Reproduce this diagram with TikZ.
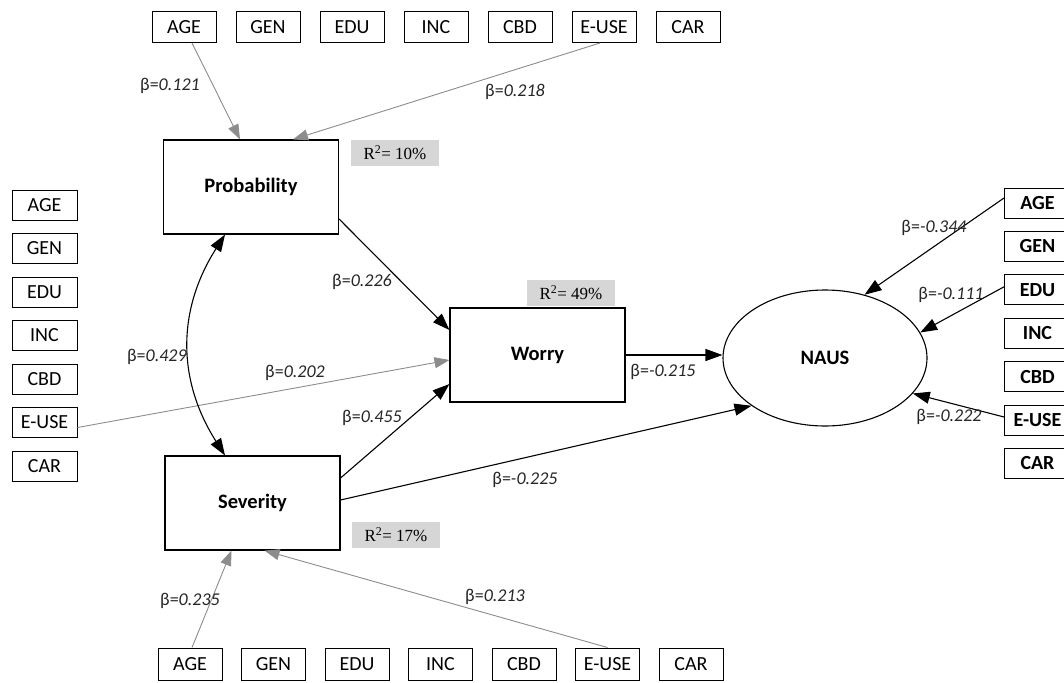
\documentclass[tikz,border=0pt]{standalone}
\usepackage{fontspec}
\setmainfont{Carlito}
\newfontfamily\rfont{Liberation Serif}
\usetikzlibrary{arrows.meta,shapes.geometric}
\tikzset{
  var/.style={draw, line width=1pt, minimum width=64pt, minimum height=31pt, inner sep=0pt, font=\fontsize{20}{20}\selectfont},
  rvar/.style={var, minimum width=66pt, font=\fontsize{20}{20}\selectfont\bfseries},
  big/.style={draw, line width=1.1pt, minimum width=175pt, minimum height=94pt, inner sep=0pt, font=\fontsize{20.5}{20.5}\selectfont\bfseries},
  rsq/.style={fill=black!16, minimum width=88pt, minimum height=26pt, inner sep=0pt, font=\rfont\fontsize{17}{17}\selectfont},
  blk/.style={line width=1.1pt, -{Triangle[length=17pt,width=12pt]}},
  gry/.style={draw=black!45, line width=0.9pt, -{Triangle[length=15pt,width=11pt,fill=black!45]}},
  dbl/.style={line width=1.1pt, {Triangle[length=17pt,width=12pt]}-{Triangle[length=17pt,width=12pt]}},
  lab/.style={font=\fontsize{18}{18}\selectfont, inner sep=1pt, text=black!85}
}
\newcommand\bv[1]{β=\textit{#1}}
\begin{document}
\begin{tikzpicture}[x=1pt,y=-1pt]
\useasboundingbox (0,0) rectangle (1064,682);
% top row
\foreach \t [count=\i] in {AGE,GEN,EDU,INC,CBD,E-USE,CAR}
  \node[var] (t\i) at ({184+(\i-1)*84},27) {\t};
% bottom row
\foreach \t [count=\i] in {AGE,GEN,EDU,INC,CBD,E-USE,CAR}
  \node[var, minimum height=32pt] (b\i) at ({190+(\i-1)*83.5},664) {\t};
% left column
\foreach \t [count=\i] in {AGE,GEN,EDU,INC,CBD,E-USE,CAR}
  \node[var, minimum width=65pt, minimum height=30pt] (l\i) at (44.5,{205+(\i-1)*43.5}) {\t};
% right column
\foreach \t [count=\i] in {AGE,GEN,EDU,INC,CBD,E-USE,CAR}
  \node[rvar, minimum height=30pt, anchor=west] (r\i) at (1004,{203+(\i-1)*43.4}) {\t};
% constructs
\node[big] (prob) at (251,187) {Probability};
\node[big] (worry) at (537.5,355) {Worry};
\node[big] (sev) at (252.5,503) {Severity};
\node[draw, ellipse, line width=1.1pt, minimum width=204pt, minimum height=136pt, inner sep=0pt, font=\fontsize{20.5}{20.5}\selectfont\bfseries] (naus) at (825,358) {NAUS};
% R2 labels
\node[rsq] (rp) at (395,153) {R\textsuperscript{2}= 10\%};
\node[rsq] (rw) at (571,293) {R\textsuperscript{2}= 49\%};
\node[rsq] (rs) at (396,535) {R\textsuperscript{2}= 17\%};
% gray paths
\draw[gry] ([xshift=8pt]t1.south) -- ([xshift=-11pt]prob.north);
\draw[gry] ([xshift=-4pt]t6.south) -- ([xshift=42pt]prob.north);
\draw[gry] ([yshift=-5pt]l6.east) -- ([yshift=-5pt]worry.west);
\draw[gry] ([xshift=2pt]b1.north) -- ([xshift=-21pt]sev.south);
\draw[gry] (b6.north) -- ([xshift=12pt]sev.south);
% black paths
\draw[blk] ([yshift=-32pt]prob.east) -- ([yshift=25pt]worry.west);
\draw[blk] ([yshift=25pt]sev.east) -- ([yshift=-29pt]worry.west);
\draw[blk] ([yshift=3pt]sev.east) -- (naus.213);
\draw[blk] (worry.east) -- (worry.east -| naus.west);
\draw[blk] ([yshift=5pt]r1.west) -- (naus.58);
\draw[blk] ([yshift=3pt]r3.west) -- (naus.15);
\draw[blk] ([yshift=3pt]r6.west) -- (naus.-22);
\draw[dbl] ([xshift=-26pt]prob.south) .. controls (177,310) and (177,380) .. ([xshift=-27.5pt]sev.north);
% coefficient labels
\node[lab] (c1) at (170,86) {\bv{0.121}};
\node[lab] (c2) at (515,92) {\bv{0.218}};
\node[lab] (c3) at (362,282) {\bv{0.226}};
\node[lab] (c4) at (157,357) {\bv{0.429}};
\node[lab] (c5) at (295,373) {\bv{0.202}};
\node[lab] (c6) at (372,418) {\bv{0.455}};
\node[lab] (c7) at (663,372) {\bv{-0.215}};
\node[lab] (c8) at (525,480) {\bv{-0.225}};
\node[lab] (c9) at (934,228) {\bv{-0.344}};
\node[lab] (c10) at (951,295) {\bv{-0.111}};
\node[lab] (c11) at (949,417) {\bv{-0.222}};
\node[lab] (c12) at (190,601) {\bv{0.235}};
\node[lab] (c13) at (495,597) {\bv{0.213}};
\end{tikzpicture}
\end{document}
